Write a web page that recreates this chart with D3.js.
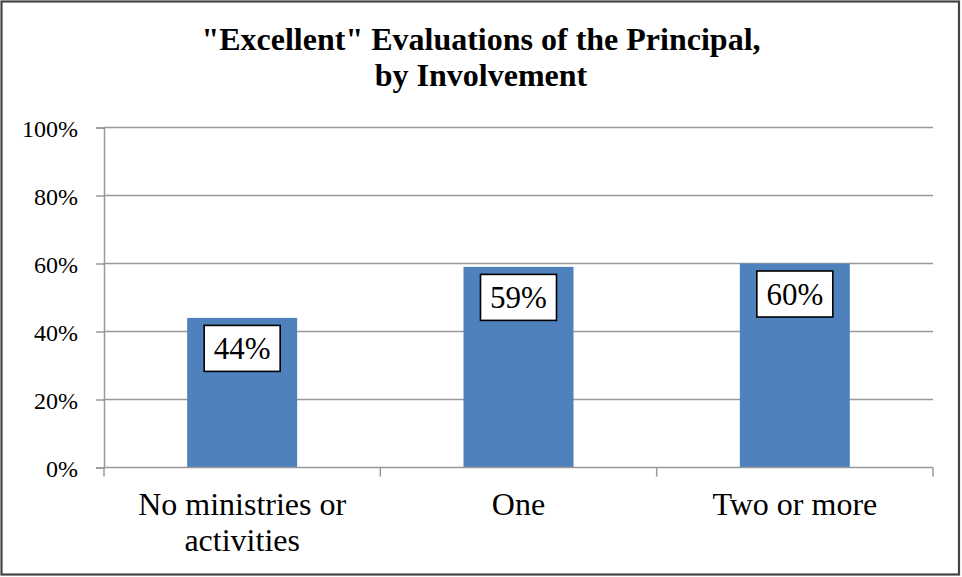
<!DOCTYPE html>
<html>
<head>
<meta charset="utf-8">
<script src="https://cdn.jsdelivr.net/npm/d3@7"></script>
<style>
  html, body { margin: 0; padding: 0; background: #fff; }
  svg { display: block; }
</style>
</head>
<body>
<svg id="chart" width="962" height="577"></svg>
<script>
const categories = [["No ministries or", "activities"], ["One"], ["Two or more"]];
const values = [44, 59, 60];
const labels = ["44%", "59%", "60%"];
const yTicks = [0, 20, 40, 60, 80, 100];
const titleLines = ["\"Excellent\" Evaluations of the Principal,", "by Involvement"];

const svg = d3.select("#chart");
const plotLeft = 104, plotRight = 933, plotTop = 127.5, plotBottom = 467.5;
const serif = "'Liberation Serif', 'Times New Roman', serif";

svg.append("rect").attr("x", 1.5).attr("y", 1.5).attr("width", 957.5).attr("height", 573)
  .attr("fill", "#fff").attr("stroke", "#444").attr("stroke-width", 2.2);

const x = d3.scaleBand().domain(d3.range(categories.length)).range([plotLeft, plotRight])
  .paddingInner(0.602).paddingOuter(0.301);
const y = d3.scaleLinear().domain([0, 100]).range([plotBottom, plotTop]);

// gridlines
svg.append("g").selectAll("line").data(yTicks.filter(d => d > 0)).join("line")
  .attr("x1", plotLeft).attr("x2", plotRight)
  .attr("y1", d => y(d)).attr("y2", d => y(d))
  .attr("stroke", "#999").attr("stroke-width", 1.5);

// bars
svg.append("g").selectAll("rect").data(values).join("rect")
  .attr("x", (d, i) => x(i)).attr("width", x.bandwidth())
  .attr("y", d => y(d)).attr("height", d => y(0) - y(d))
  .attr("fill", "#4f81bd");

// y axis
const yAxis = d3.axisLeft(y).tickValues(yTicks).tickSize(8).tickPadding(18)
  .tickFormat(d => d + "%");
const gy = svg.append("g").attr("transform", `translate(${plotLeft},0)`).call(yAxis);
gy.select(".domain").attr("stroke", "#999").attr("stroke-width", 1.5);
gy.selectAll(".tick line").attr("stroke", "#999").attr("stroke-width", 1.5);
gy.selectAll(".tick text").style("font-family", serif).style("font-size", "24px")
  .attr("fill", "#000").attr("dy", "0.36em");

// x axis
const xBound = d3.scaleLinear().domain([0, categories.length]).range([plotLeft, plotRight]);
const gx = svg.append("g").attr("transform", `translate(0,${plotBottom})`);
gx.append("line").attr("x1", plotLeft).attr("x2", plotRight).attr("stroke", "#999").attr("stroke-width", 1.5);
gx.selectAll("line.tk").data(d3.range(categories.length + 1)).join("line").attr("class", "tk")
  .attr("x1", d => xBound(d)).attr("x2", d => xBound(d)).attr("y1", 0).attr("y2", 9)
  .attr("stroke", "#999").attr("stroke-width", 1.5);
const ct = gx.selectAll("text").data(categories).join("text")
  .attr("x", (d, i) => x(i) + x.bandwidth() / 2).attr("y", 47)
  .attr("text-anchor", "middle").style("font-family", serif).style("font-size", "32px").attr("fill", "#000");
ct.selectAll("tspan").data(d => d).join("tspan")
  .attr("x", function() { return d3.select(this.parentNode).attr("x"); })
  .attr("dy", (d, i) => i === 0 ? 0 : 36).text(d => d);

// data labels
const lg = svg.append("g").selectAll("g").data(values).join("g")
  .attr("transform", (d, i) => `translate(${x(i) + x.bandwidth() / 2},${y(d) + 7.5})`);
lg.append("rect").attr("x", -38).attr("y", 0).attr("width", 76).attr("height", 46)
  .attr("fill", "#fff").attr("stroke", "#000").attr("stroke-width", 1.6);
lg.append("text").attr("y", 34).attr("text-anchor", "middle")
  .style("font-family", serif).style("font-size", "31px").attr("fill", "#000")
  .text((d, i) => labels[i]);

// title
svg.append("g").selectAll("text").data(titleLines).join("text")
  .attr("x", 481).attr("y", (d, i) => 50 + i * 36)
  .attr("text-anchor", "middle").style("font-family", serif).style("font-weight", "bold")
  .style("font-size", "32px").attr("fill", "#000").text(d => d);
</script>
</body>
</html>
